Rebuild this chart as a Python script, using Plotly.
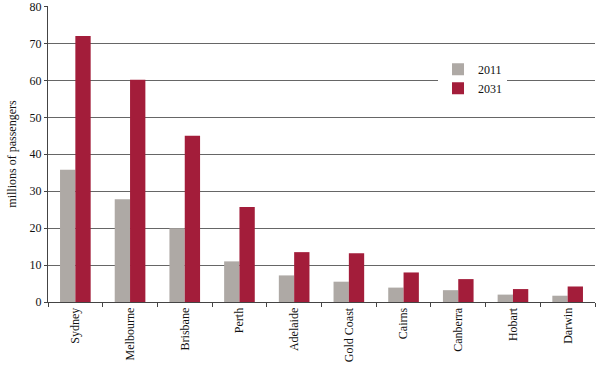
import plotly.graph_objects as go

cities = ["Sydney", "Melbourne", "Brisbane", "Perth", "Adelaide", "Gold Coast",
          "Cairns", "Canberra", "Hobart", "Darwin"]
pax_2011 = [35.8, 27.8, 20.0, 11.0, 7.2, 5.5, 3.9, 3.2, 2.0, 1.7]
pax_2031 = [72.0, 60.2, 45.0, 25.7, 13.5, 13.2, 8.0, 6.2, 3.5, 4.2]
y_ticks = [0, 10, 20, 30, 40, 50, 60, 70, 80]

font = "Liberation Serif, Times New Roman, serif"

fig = go.Figure()
fig.add_trace(go.Bar(x=cities, y=pax_2011, name="2011",
                     marker=dict(color="#AEA9A5", line=dict(width=0))))
fig.add_trace(go.Bar(x=cities, y=pax_2031, name="2031",
                     marker=dict(color="#A31D3A", line=dict(width=0))))

fig.update_layout(
    width=599, height=371,
    margin=dict(l=48, r=4, t=6, b=69),
    paper_bgcolor="white", plot_bgcolor="white",
    barmode="group", bargap=0.44, bargroupgap=0,
    font=dict(family=font, size=12, color="#111"),
    showlegend=True,
    legend=dict(x=0.713, y=0.835, xanchor="left", yanchor="top",
                bgcolor="white", font=dict(family=font, size=12, color="#111"),
                itemwidth=30, tracegroupgap=3),
    xaxis=dict(showline=True, linecolor="#444", linewidth=1,
               ticks="outside", ticklen=4, tickcolor="#444",
               tickson="boundaries", tickangle=-90, automargin=False,
               tickfont=dict(family=font, size=12, color="#111"), showgrid=False),
    yaxis=dict(range=[0, 80.15], tickvals=y_ticks,
               showline=True, linecolor="#444", automargin=False,
               linewidth=1, ticks="outside", ticklen=3, tickcolor="#444",
               showgrid=True, gridcolor="#666", gridwidth=1,
               zeroline=False, ticklabeloverflow="allow",
               title=dict(text="millions of passengers", standoff=10,
                          font=dict(family=font, size=12, color="#111")),
               tickfont=dict(family=font, size=12, color="#111")),
)

fig.write_html("out.html", config={"displayModeBar": False},
               post_script="document.body.style.margin='0';document.body.style.overflow='hidden';")
